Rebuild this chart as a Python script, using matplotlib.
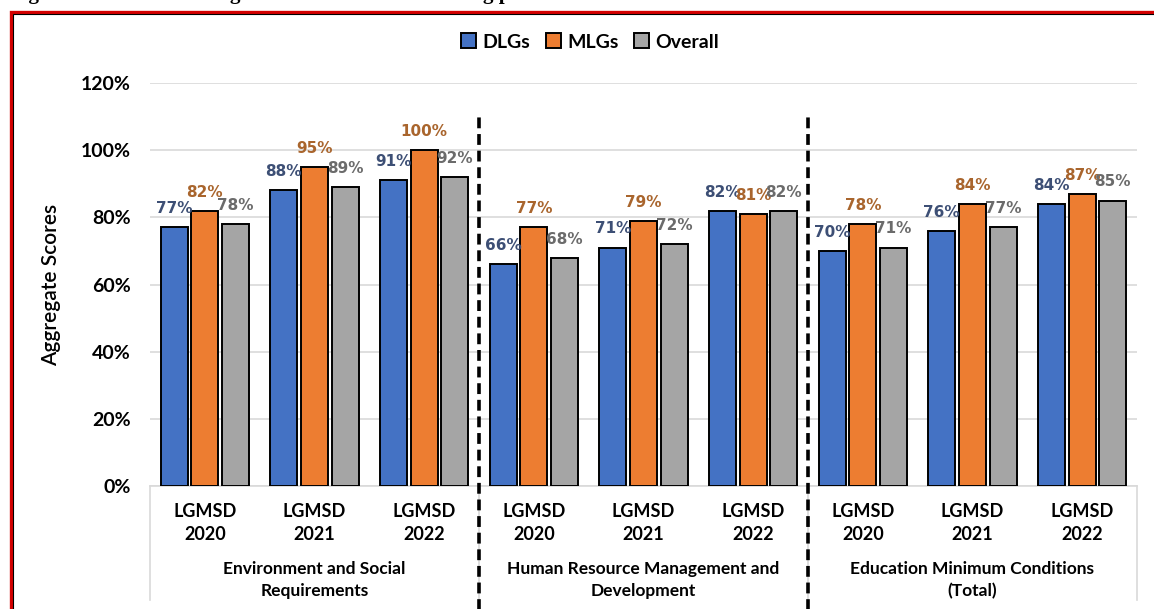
import numpy as np
import matplotlib.pyplot as plt
from matplotlib.patches import Rectangle, Patch

# scores per LGMSD year, grouped by assessment area
areas = [
    "Environment and Social\nRequirements",
    "Human Resource Management and\nDevelopment",
    "Education Minimum Conditions\n(Total)",
]
years = ["LGMSD\n2020", "LGMSD\n2021", "LGMSD\n2022"]
dlgs = [77, 88, 91, 66, 71, 82, 70, 76, 84]
mlgs = [82, 95, 100, 77, 79, 81, 78, 84, 87]
overall = [78, 89, 92, 68, 72, 82, 71, 77, 85]

series = [
    ("DLGs", dlgs, "#4472C4", "#3D4F75"),
    ("MLGs", mlgs, "#ED7D31", "#A9652D"),
    ("Overall", overall, "#A5A5A5", "#6B6B6B"),
]

plt.rcParams["font.family"] = ["Lato", "DejaVu Sans"]

W, H = 1154, 609
fig = plt.figure(figsize=(W / 100, H / 100), dpi=100)
ax = fig.add_axes([150 / W, 1 - 486 / H, 987 / W, 403 / H])

x = np.arange(len(dlgs))
width = 0.245
offsets = [-0.28, 0.0, 0.28]

for (name, vals, color, lab_color), off in zip(series, offsets):
    vals = np.array(vals) / 100
    bars = ax.bar(x + off, vals, width, color=color, edgecolor="black",
                  linewidth=1.4, zorder=3, label=name)
    for b, v in zip(bars, vals):
        ax.annotate(f"{v * 100:.0f}%", (b.get_x() + b.get_width() / 2, v),
                    xytext=(0, 8), textcoords="offset points",
                    ha="center", va="bottom", fontsize=11, fontweight="bold",
                    color=lab_color, family="DejaVu Sans", zorder=4)

ax.set_ylim(0, 1.2)
ax.set_xlim(-0.5, len(dlgs) - 0.5)
ticks = np.arange(0, 1.21, 0.2)
ax.set_yticks(ticks)
ax.set_yticklabels([f"{int(round(t * 100))}%" for t in ticks],
                   fontsize=14, fontweight="bold")
ax.yaxis.grid(True, color="#D9D9D9", linewidth=1.2, zorder=0)
ax.set_axisbelow(True)
ax.tick_params(axis="y", length=0, pad=14)
for s in ["top", "right", "left"]:
    ax.spines[s].set_visible(False)
ax.spines["bottom"].set_color("#D9D9D9")
ax.spines["bottom"].set_linewidth(1.2)
ax.set_ylabel("Aggregate Scores", fontsize=15, fontweight="semibold", labelpad=14)

# year labels and area labels under the axis
ax.set_xticks(x)
ax.set_xticklabels(years * 3, fontsize=13, fontweight="bold", linespacing=1.45)
ax.tick_params(axis="x", length=0, pad=12)
for i, area in enumerate(areas):
    ax.text(3 * i + 1, -0.28, area, ha="center", va="center", fontsize=12.5,
            fontweight="bold", linespacing=1.5)

# light frame around the category axis
for xb in [-0.5, 2.5, 5.5, 8.5]:
    ax.plot([xb, xb], [0, -0.34], color="#D9D9D9", linewidth=1.2,
            clip_on=False, zorder=1)

# dashed separators between areas
for xb in [2.5, 5.5]:
    ax.plot([xb, xb], [-0.45, 1.105], color="black", linewidth=2.6,
            linestyle=(0, (3, 1.6)), clip_on=False, zorder=5)

handles = [Patch(facecolor=c, edgecolor="black", linewidth=1.4) for _, _, c, _ in series]
fig.legend(handles, [s[0] for s in series], loc="center",
           bbox_to_anchor=(590 / W, 1 - 42 / H), ncol=3, frameon=False,
           handlelength=0.8, handleheight=0.8, handletextpad=0.3,
           columnspacing=0.8, prop={"size": 14, "weight": "bold"})

# page frame
fig.add_artist(Rectangle((11 / W, -0.1), 1.2, 1 - 12 / H + 0.1,
                         transform=fig.transFigure, fill=False,
                         edgecolor="#D40000", linewidth=2.4, zorder=10))
fig.add_artist(Rectangle((13 / W, -0.1), 1.2, 1 - 14 / H + 0.1,
                         transform=fig.transFigure, fill=False,
                         edgecolor="black", linewidth=0.8, zorder=10))

fig.text(10 / W, 1 + 1 / H, "Figure 9: Trend in Average Scores in the Cross-cutting performance measures",
         ha="left", va="baseline", fontsize=15, fontweight="bold",
         family="Liberation Serif")

fig.savefig("out.png", dpi=100)
